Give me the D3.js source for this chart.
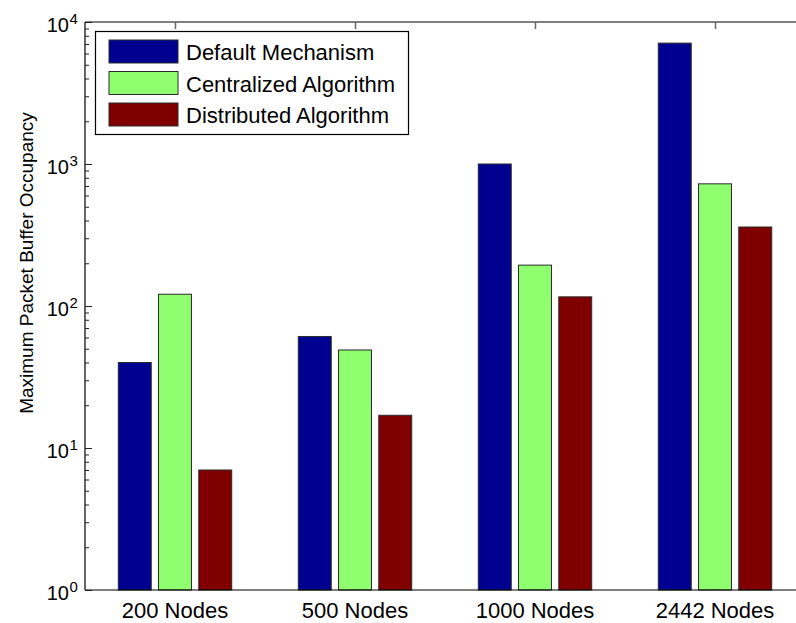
<!DOCTYPE html>
<html>
<head>
<meta charset="utf-8">
<script src="https://cdn.jsdelivr.net/npm/d3@7/dist/d3.min.js"></script>
<style>
  html, body { margin: 0; padding: 0; background: #fff; }
  svg { display: block; font-family: "Liberation Sans", Arial, Helvetica, sans-serif; }
</style>
</head>
<body>
<svg id="chart" width="796" height="623"></svg>
<script>
// Categories and series values
const categories = ["200 Nodes", "500 Nodes", "1000 Nodes", "2442 Nodes"];
const seriesNames = ["Default Mechanism", "Centralized Algorithm", "Distributed Algorithm"];
const defaultMechanism = [40, 61, 1000, 7100];
const centralizedAlgorithm = [121, 49, 194, 725];
const distributedAlgorithm = [7, 17, 116, 360];
const seriesColors = ["#000090", "#8fff70", "#800000"];
const yTickValues = [1, 10, 100, 1000, 10000];
const yTickExponents = ["0", "1", "2", "3", "4"];

const series = [defaultMechanism, centralizedAlgorithm, distributedAlgorithm];

const svg = d3.select("#chart");
const plot = { left: 85, right: 805, top: 22, bottom: 590 };

// x: category positions 1..4 with half-unit padding on each side
const x = d3.scaleLinear().domain([0.5, 4.5]).range([plot.left, plot.right]);
const y = d3.scaleLog().domain([1, 10000]).range([plot.bottom, plot.top]);

const unit = x(2) - x(1);
const barOffset = 0.2236 * unit;
const barWidth = 0.183 * unit;

// Bars
series.forEach((vals, s) => {
  svg.append("g")
    .selectAll("rect")
    .data(vals)
    .join("rect")
    .attr("x", (d, i) => x(i + 1) + (s - 1) * barOffset - barWidth / 2)
    .attr("y", d => y(d))
    .attr("width", barWidth)
    .attr("height", d => y(1) - y(d))
    .attr("fill", seriesColors[s])
    .attr("stroke", "#2a2a2a")
    .attr("stroke-width", 1);
});

// Axis frame
const frame = svg.append("g").attr("stroke", "#000").attr("stroke-width", 1.2).attr("fill", "none");
frame.append("line").attr("x1", plot.left).attr("x2", plot.right).attr("y1", plot.top).attr("y2", plot.top);
frame.append("line").attr("x1", plot.left).attr("x2", plot.right).attr("y1", plot.bottom).attr("y2", plot.bottom);
frame.append("line").attr("x1", plot.left).attr("x2", plot.left).attr("y1", plot.top).attr("y2", plot.bottom);

// Y axis ticks (major and minor, drawn inward) via d3.axisRight at the left edge
const minorTicks = [];
for (let e = 0; e < 4; e++) for (let m = 2; m <= 9; m++) minorTicks.push(m * Math.pow(10, e));

svg.append("g")
  .attr("transform", `translate(${plot.left},0)`)
  .call(d3.axisRight(y).tickValues(minorTicks).tickSize(4).tickFormat(""))
  .call(g => g.select(".domain").remove())
  .call(g => g.selectAll("line").attr("stroke", "#222"));

svg.append("g")
  .attr("transform", `translate(${plot.left},0)`)
  .call(d3.axisRight(y).tickValues(yTickValues).tickSize(7).tickFormat(""))
  .call(g => g.select(".domain").remove())
  .call(g => g.selectAll("line").attr("stroke", "#222"));

// Y tick labels as 10^n
const yLab = svg.append("g").attr("fill", "#000");
yTickValues.forEach((v, i) => {
  const t = yLab.append("text")
    .attr("x", 69)
    .attr("y", y(v) + 9.5)
    .attr("text-anchor", "end")
    .attr("font-size", 20)
    .text("10");
  yLab.append("text")
    .attr("x", 69.5)
    .attr("y", y(v) + 2)
    .attr("font-size", 15)
    .text(yTickExponents[i]);
});

// X ticks at top and bottom, drawn inward
const xTicks = categories.map((c, i) => i + 1);
svg.append("g")
  .attr("transform", `translate(0,${plot.top})`)
  .call(d3.axisBottom(x).tickValues(xTicks).tickSize(7).tickFormat(""))
  .call(g => g.select(".domain").remove())
  .call(g => g.selectAll("line").attr("stroke", "#666").attr("stroke-width", 1.5));

// X tick labels
svg.append("g")
  .selectAll("text")
  .data(categories)
  .join("text")
  .attr("x", (d, i) => x(i + 1))
  .attr("y", 618)
  .attr("text-anchor", "middle")
  .attr("font-size", 22)
  .text(d => d);

// Y axis title
svg.append("text")
  .attr("transform", "translate(33,263) rotate(-90)")
  .attr("text-anchor", "middle")
  .attr("font-size", 19)
  .text("Maximum Packet Buffer Occupancy");

// Legend
const legend = svg.append("g");
legend.append("rect")
  .attr("x", 95.5).attr("y", 31.5)
  .attr("width", 313).attr("height", 103)
  .attr("fill", "#fff").attr("stroke", "#000").attr("stroke-width", 1.2);

seriesNames.forEach((name, i) => {
  const rowY = 40 + i * 31.5;
  legend.append("rect")
    .attr("x", 109).attr("y", rowY)
    .attr("width", 69).attr("height", 23)
    .attr("fill", seriesColors[i])
    .attr("stroke", "#2a2a2a").attr("stroke-width", 1);
  legend.append("text")
    .attr("x", 186).attr("y", rowY + 20)
    .attr("font-size", 22)
    .text(name);
});
</script>
</body>
</html>
